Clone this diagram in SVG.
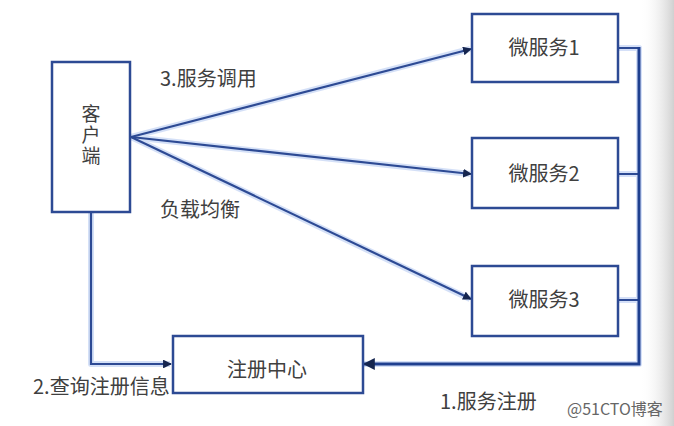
<svg xmlns="http://www.w3.org/2000/svg" width="674" height="426" viewBox="0 0 674 426">
<style>
.box{fill:#fff;stroke:#2d4a94;stroke-width:2.5}
.halo{fill:none;stroke:#b9ccf3;stroke-width:6;stroke-linejoin:round}
.ln{fill:none;stroke:#2d4a94;stroke-width:2.2;stroke-linejoin:miter}
.bus{fill:none;stroke:#1f3f8f;stroke-width:3}
.t{font-family:"Noto Sans CJK SC","Liberation Sans",sans-serif;font-size:20px;fill:#404040}
.v{font-family:"Noto Sans CJK SC","Liberation Sans",sans-serif;font-size:19px;fill:#404040;writing-mode:vertical-rl;letter-spacing:2px}
.wm{font-family:"Noto Sans CJK SC","Liberation Sans",sans-serif;font-size:16px;fill:#666}
</style>
<defs>
<marker id="ah" viewBox="0 0 10 10" refX="9" refY="5" markerWidth="4" markerHeight="4" orient="auto" markerUnits="strokeWidth">
<path d="M0,0L10,5L0,10z" fill="#15254f"/>
</marker>
<linearGradient id="edge" x1="0" y1="0" x2="1" y2="0">
<stop offset="0" stop-color="#fff" stop-opacity="0"/>
<stop offset="1" stop-color="#d0d0d0"/>
</linearGradient>
</defs>
<rect width="674" height="426" fill="#fff"/>
<rect x="640" y="0" width="34" height="426" fill="url(#edge)"/>
<g id="connectors">
<g opacity="0.6">
<path class="halo" d="M131,137 L470,49"/>
<path class="halo" d="M131,137 L470,174"/>
<path class="halo" d="M131,137 L470,299"/>
<path class="halo" d="M91,213 V364 H170"/>
<path class="halo" d="M618,48 H639 V364 H364 M618,174 H639 M618,300 H639"/>
</g>
<path class="ln" d="M131,137 L471,49" marker-end="url(#ah)"/>
<path class="ln" d="M131,137 L471,174" marker-end="url(#ah)"/>
<path class="ln" d="M131,137 L471,299" marker-end="url(#ah)"/>
<path class="ln" d="M91,213 V364 H171" marker-end="url(#ah)"/>
<path class="ln" d="M618,48 H639 M618,174 H639 M618,300 H639"/>
<path class="bus" d="M639,47 V364 H364" marker-end="url(#ah)"/>
</g>
<g id="client">
<rect class="box" x="52" y="62" width="78" height="150"/>
<text class="v" x="91" y="104">客户端</text>
</g>
<g id="ms1">
<rect class="box" x="472" y="14" width="146" height="68"/>
<text class="t" x="544" y="55" text-anchor="middle">微服务1</text>
</g>
<g id="ms2">
<rect class="box" x="472" y="138" width="146" height="70"/>
<text class="t" x="544" y="181" text-anchor="middle">微服务2</text>
</g>
<g id="ms3">
<rect class="box" x="472" y="266" width="146" height="70"/>
<text class="t" x="544" y="307" text-anchor="middle">微服务3</text>
</g>
<g id="registry">
<rect class="box" x="173" y="336" width="190" height="57"/>
<text class="t" x="267" y="377" text-anchor="middle">注册中心</text>
</g>
<g id="labels">
<text class="t" x="160" y="86">3.服务调用</text>
<text class="t" x="160" y="217">负载均衡</text>
<text class="t" x="33" y="394">2.查询注册信息</text>
<text class="t" x="440" y="409">1.服务注册</text>
<text class="wm" x="567" y="415">@51CTO博客</text>
</g>
</svg>
